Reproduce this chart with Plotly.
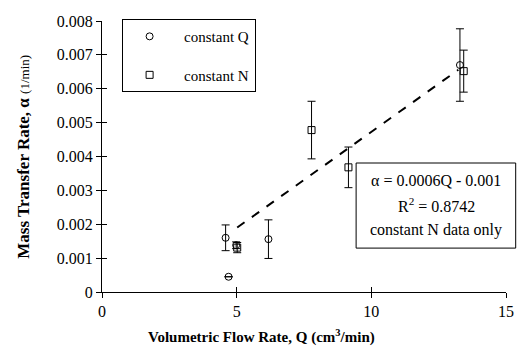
import numpy as np
import plotly.graph_objects as go

# constant Q (circles)
q_x = [4.59, 4.70, 4.98, 6.18, 13.29]
q_y = [0.00160, 0.00045, 0.00138, 0.00156, 0.00670]
q_err = [0.00038, 0.0, 0.00010, 0.00057, 0.00107]

# constant N (squares)
n_x = [5.02, 7.78, 9.15, 13.43]
n_y = [0.00131, 0.00478, 0.00368, 0.00652]
n_err = [0.00015, 0.00085, 0.00060, 0.00062]

x_ticks = [0, 5, 10, 15]
y_ticks = [0, 0.001, 0.002, 0.003, 0.004, 0.005, 0.006, 0.007, 0.008]
y_tick_text = ["0", "0.001", "0.002", "0.003", "0.004", "0.005", "0.006", "0.007", "0.008"]

box_lines = ["α = 0.0006Q - 0.001", "R<sup>2</sup> = 0.8742", "constant N data only"]

# linear trend fit to constant N data
slope, icept = np.polyfit(n_x, n_y, 1)
fit_x = [min(n_x), max(n_x) - 0.2]
fit_y = [slope * v + icept for v in fit_x]

FONT = "Liberation Serif"

fig = go.Figure()
fig.add_trace(go.Scatter(
    x=q_x, y=q_y, mode="markers", name="  constant Q", legendgroup="q",
    marker=dict(symbol="circle-open", size=7, color="black", line=dict(width=1)),
    error_y=dict(type="data", array=q_err, color="black", thickness=1, width=4),
))
fig.add_trace(go.Scatter(
    x=n_x, y=n_y, mode="markers", name="  constant N", legendgroup="n",
    marker=dict(symbol="square-open", size=7, color="black", line=dict(width=1)),
    error_y=dict(type="data", array=n_err, color="black", thickness=1, width=4),
))
fig.add_trace(go.Scatter(
    x=fit_x, y=fit_y, mode="lines", showlegend=False,
    line=dict(color="black", width=2, dash="dash"),
))
# overlay axes for inside tick halves
fig.add_trace(go.Scatter(x=[None], y=[None], xaxis="x2", yaxis="y2", showlegend=False))

axis_common = dict(showgrid=False, zeroline=False, showline=True, linecolor="black",
                   linewidth=1, ticks="outside", ticklen=5, tickcolor="black", tickwidth=1,
                   tickfont=dict(family=FONT, size=16, color="black"))

fig.update_layout(
    width=525, height=348,
    margin=dict(l=102, r=11, t=21, b=56),
    paper_bgcolor="white", plot_bgcolor="white",
    font=dict(family=FONT, color="black"),
    xaxis=dict(range=[0, 15], tickvals=x_ticks, **axis_common),
    yaxis=dict(range=[0, 0.008], tickvals=y_ticks, ticktext=y_tick_text, **axis_common),
    xaxis2=dict(range=[0, 15], tickvals=x_ticks, overlaying="x", showticklabels=False,
                showgrid=False, zeroline=False, showline=False, ticks="inside", ticklen=5,
                tickcolor="black", side="bottom", anchor="y2"),
    yaxis2=dict(range=[0, 0.008], tickvals=y_ticks, overlaying="y", showticklabels=False,
                showgrid=False, zeroline=False, showline=False, ticks="inside", ticklen=5,
                tickcolor="black", side="left", anchor="x2"),
    legend=dict(x=0.0485, y=1.007, xanchor="left", yanchor="top",
                bgcolor="white", bordercolor="black", borderwidth=1,
                font=dict(family=FONT, size=15, color="black"),
                traceorder="grouped", tracegroupgap=16, itemwidth=44),
    showlegend=True,
)

# axis titles
fig.add_annotation(xref="paper", yref="paper", x=(265 - 102) / 412, y=-0.165,
                   xanchor="center", yanchor="middle", showarrow=False,
                   text="<b>Volumetric Flow Rate, Q (cm<sup>3</sup>/min)</b>",
                   font=dict(family=FONT, size=15, color="black"))
fig.add_annotation(xref="paper", yref="paper", x=-0.195, y=0.5,
                   xanchor="center", yanchor="middle", showarrow=False, textangle=-90,
                   text="<b>Mass Transfer Rate, α</b> <span style='font-size:13px'>(1/min)</span>",
                   font=dict(family=FONT, size=17, color="black"))

# equation box
fig.add_shape(type="rect", xref="paper", yref="paper", x0=0.629, x1=1.024, y0=0.162, y1=0.476,
              line=dict(color="black", width=1), fillcolor="white", layer="above")
for i, t in enumerate(box_lines):
    fig.add_annotation(xref="paper", yref="paper", x=(443 - 102) / 412, y=0.413 - i * 0.092,
                       xanchor="center", yanchor="middle", showarrow=False, text=t,
                       font=dict(family=FONT, size=16, color="black"))

fig.write_html("out.html")
